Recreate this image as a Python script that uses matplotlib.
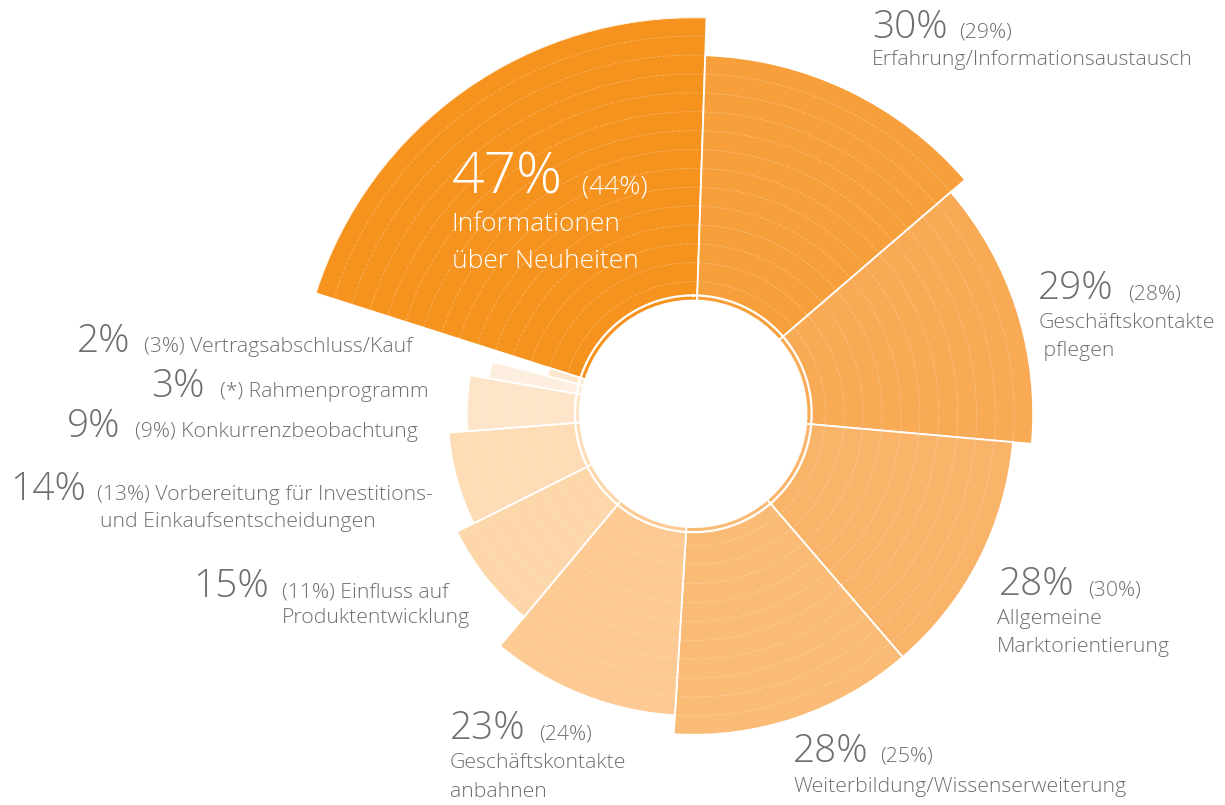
import numpy as np
import matplotlib
matplotlib.use('Agg')
import matplotlib.pyplot as plt

plt.rcParams['font.family'] = ['Open Sans', 'DejaVu Sans']
plt.rcParams['font.weight'] = 'light'

# Werte 2015 (Vorjahr in Klammern)
werte = [47, 30, 29, 28, 28, 23, 15, 14, 9, 3, 2]
vorjahr = ['(44%)', '(29%)', '(28%)', '(30%)', '(25%)', '(24%)', '(11%)', '(13%)', '(9%)', '(*)', '(3%)']
ringe = [15, 13, 12, 11, 11, 10, 8, 7, 6, 5, 2]
farben = ['#f6931f', '#f7a03b', '#f8aa55', '#f9b46a', '#fabb76', '#fcca92', '#fdd6aa',
          '#fddcb6', '#fee4c8', '#feeedf', '#fde7cf']

W, H = 1225, 805
cx, cy, R = 693.3, 413.8, 396.5
loch = 6.0
rmax = loch + max(ringe)

fig = plt.figure(figsize=(W / 100, H / 100), dpi=100)
fig.patch.set_facecolor('white')
ax = fig.add_axes([(cx - R) / W, (H - cy - R) / H, 2 * R / W, 2 * R / H], projection='polar')
ax.set_theta_zero_location('N')
ax.set_theta_direction(-1)
ax.set_ylim(0, rmax)
ax.axis('off')

breiten = np.radians(np.array(werte) / sum(werte) * 360)
start = np.radians(-72.3)
links = start + np.concatenate([[0], np.cumsum(breiten)[:-1]])
mitten = links + breiten / 2

ax.bar(mitten, ringe, width=breiten, bottom=loch, color=farben,
       edgecolor='white', linewidth=1.3, zorder=2)

# feine Ringlinien in den Segmenten
for l, b, n in zip(links, breiten, ringe):
    t = np.linspace(l + 0.004, l + b - 0.004, 100)
    for k in range(1, n):
        ax.plot(t, np.full_like(t, loch + k), color='white', lw=0.6, alpha=0.28,
                ls=(0, (4, 2)), zorder=3)

# weisser Innenring
t = np.linspace(0, 2 * np.pi, 400)
ax.plot(t, np.full_like(t, loch + 0.27), color='white', lw=1.6, zorder=4)

grau = '#6d6e71'
gross = 28
klein = 15.3


def px(x, y):
    return x / W, 1 - y / H


def label(x, y, gross_txt, x2, klein_txt, zeilen=(), color=grau, gs=gross, ks=klein, zx=None, dz=28):
    fig.text(*px(x, y), gross_txt, fontsize=gs, color=color, va='baseline', ha='left')
    fig.text(*px(x2, y), klein_txt, fontsize=ks, color=color, va='baseline', ha='left')
    for i, z in enumerate(zeilen):
        fig.text(*px(zx if zx is not None else x, y + dz * (i + 1)), z, fontsize=ks,
                 color=color, va='baseline', ha='left')


# 47 %
label(451.7, 193.3, '47%', 581.7, vorjahr[0], ['Informationen', 'über Neuheiten'],
      color='white', gs=41, ks=19, dz=37.5)
label(872, 37.5, '30%', 959, vorjahr[1], ['Erfahrung/Informationsaustausch'], dz=27.5)
label(1038.3, 299.3, '29%', 1128.3, vorjahr[2], ['Geschäftskontakte', ' pflegen'], dz=28.5)
label(999.3, 595, '28%', 1087.7, vorjahr[3], ['Allgemeine', 'Marktorientierung'], zx=997.3, dz=28.5)
label(793.3, 761.7, '28%', 880, vorjahr[4], ['Weiterbildung/Wissenserweiterung'], dz=30)
label(450, 739.3, '23%', 539.3, vorjahr[5], ['Geschäftskontakte', 'anbahnen'], dz=29)
label(193, 597, '15%', 281.5, vorjahr[6] + ' Einfluss auf', ['Produktentwicklung'], zx=281.5, dz=25.5)
label(10, 500, '14%', 96.7, vorjahr[7] + ' Vorbereitung für Investitions-',
      ['und Einkaufsentscheidungen'], zx=100, dz=27)
label(66.7, 436.7, '9%', 135, vorjahr[8] + ' Konkurrenzbeobachtung')
label(151.7, 397.3, '3%', 220, vorjahr[9] + ' Rahmenprogramm')
label(76.7, 351.7, '2%', 144, vorjahr[10] + ' Vertragsabschluss/Kauf')

fig.savefig('out.png', dpi=100, facecolor='white')
